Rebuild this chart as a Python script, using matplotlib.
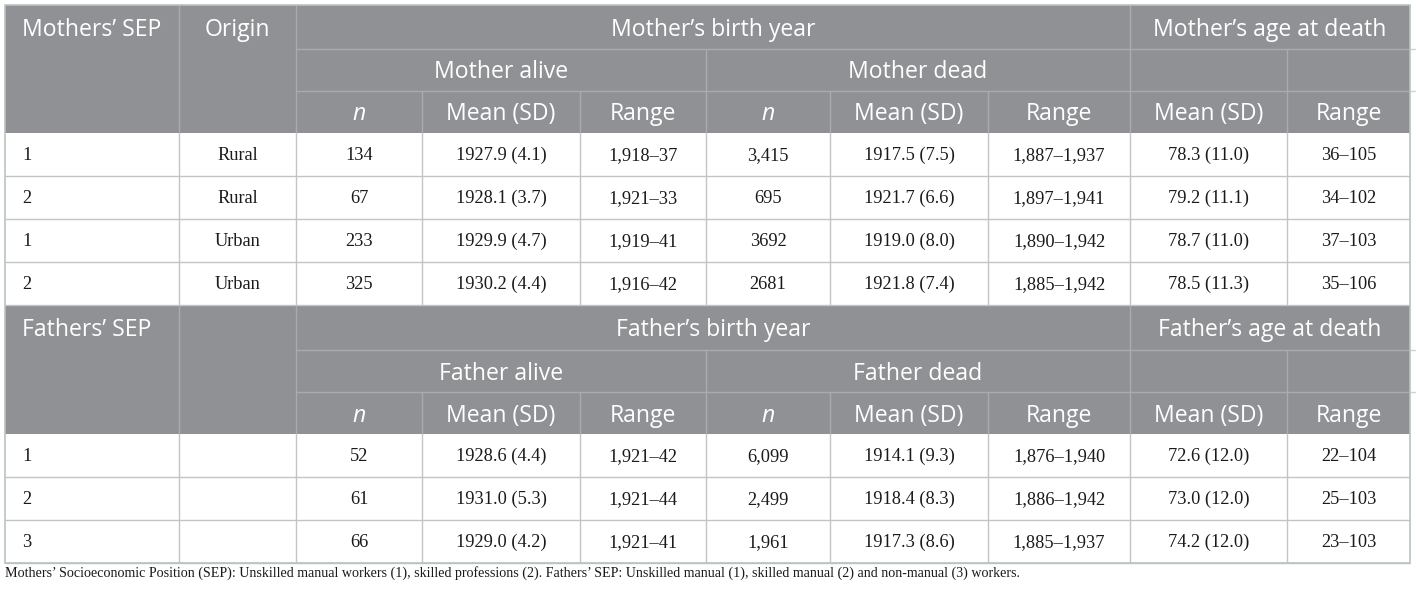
import matplotlib
matplotlib.use("Agg")
import matplotlib.pyplot as plt
from matplotlib.patches import Rectangle

# ---- data ----
mother_sep = ['1', '2', '1', '2']
origin = ['Rural', 'Rural', 'Urban', 'Urban']
m_alive_n = ['134', '67', '233', '325']
m_alive_mean = ['1927.9 (4.1)', '1928.1 (3.7)', '1929.9 (4.7)', '1930.2 (4.4)']
m_alive_range = ['1,918–37', '1,921–33', '1,919–41', '1,916–42']
m_dead_n = ['3,415', '695', '3692', '2681']
m_dead_mean = ['1917.5 (7.5)', '1921.7 (6.6)', '1919.0 (8.0)', '1921.8 (7.4)']
m_dead_range = ['1,887–1,937', '1,897–1,941', '1,890–1,942', '1,885–1,942']
m_age_mean = ['78.3 (11.0)', '79.2 (11.1)', '78.7 (11.0)', '78.5 (11.3)']
m_age_range = ['36–105', '34–102', '37–103', '35–106']

father_sep = ['1', '2', '3']
f_origin = ['', '', '']
f_alive_n = ['52', '61', '66']
f_alive_mean = ['1928.6 (4.4)', '1931.0 (5.3)', '1929.0 (4.2)']
f_alive_range = ['1,921–42', '1,921–44', '1,921–41']
f_dead_n = ['6,099', '2,499', '1,961']
f_dead_mean = ['1914.1 (9.3)', '1918.4 (8.3)', '1917.3 (8.6)']
f_dead_range = ['1,876–1,940', '1,886–1,942', '1,885–1,937']
f_age_mean = ['72.6 (12.0)', '73.0 (12.0)', '74.2 (12.0)']
f_age_range = ['22–104', '25–103', '23–103']

sub_headers = ['n', 'Mean (SD)', 'Range', 'n', 'Mean (SD)', 'Range', 'Mean (SD)', 'Range']
caption = ("Mothers’ Socioeconomic Position (SEP): Unskilled manual workers (1), skilled professions (2). "
           "Fathers’ SEP: Unskilled manual (1), skilled manual (2) and non-manual (3) workers.")

# ---- layout (pixels) ----
W, H = 1416, 595
colx = [5, 179, 296, 422, 580, 706, 830, 988, 1130, 1287, 1410]
HDR = '#8f9194'
HLINE = '#a9abae'
DLINE = '#c4c4c4'
OUTER = '#b9c3bf'
hfont = 'Open Sans'
dfont = 'Liberation Serif'
HFS = 16.6
DFS = 13.2

fig = plt.figure(figsize=(W / 100, H / 100), dpi=100)
ax = fig.add_axes([0, 0, 1, 1])
ax.set_xlim(0, W)
ax.set_ylim(H, 0)
ax.axis('off')


def hline(y, x0, x1, c, lw=1.0):
    ax.plot([x0, x1], [y, y], color=c, lw=lw, solid_capstyle='butt')


def vline(x, y0, y1, c, lw=1.0):
    ax.plot([x, x], [y0, y1], color=c, lw=lw, solid_capstyle='butt')


def mid(i, j=None):
    j = i + 1 if j is None else j
    return (colx[i] + colx[j]) / 2


def header(y0, first, second, title1, alive, dead, title2):
    r = [y0, y0 + 44, y0 + 86, y0 + 128]
    ax.add_patch(Rectangle((colx[0], r[0]), colx[-1] - colx[0], r[3] - r[0],
                           facecolor=HDR, edgecolor='none', zorder=0))
    # lines
    hline(r[1], colx[2], colx[-1], HLINE)
    hline(r[2], colx[2], colx[-1], HLINE)
    hline(r[1], colx[-1], W, '#d0d4d2')
    hline(r[2], colx[-1], W, '#d0d4d2')
    for x in (colx[1], colx[2], colx[8]):
        vline(x, r[0], r[3], HLINE)
    for x in (colx[5], colx[9]):
        vline(x, r[1], r[3], HLINE)
    for x in (colx[3], colx[4], colx[6], colx[7]):
        vline(x, r[2], r[3], HLINE)
    kw = dict(color='white', family=hfont, fontsize=HFS, va='center')
    c0 = (r[0] + r[1]) / 2 + 2.5
    c1 = (r[1] + r[2]) / 2 + 2.5
    c2 = (r[2] + r[3]) / 2 + 2.5
    ax.text(22, c0, first, ha='left', **kw)
    ax.text(mid(1), c0, second, ha='center', **kw)
    ax.text(mid(2, 8), c0, title1, ha='center', **kw)
    ax.text(mid(8, 10), c0, title2, ha='center', **kw)
    ax.text(mid(2, 5), c1, alive, ha='center', **kw)
    ax.text(mid(5, 8), c1, dead, ha='center', **kw)
    for k, s in enumerate(sub_headers):
        ax.text(mid(k + 2), c2, s, ha='center',
                style='italic' if s == 'n' else 'normal', **kw)
    return r[3]


def body(y0, cols):
    nrows = len(cols[0])
    rh = 43
    for i in range(nrows):
        yc = y0 + rh * i + rh / 2 + 1
        for k, col in enumerate(cols):
            if k == 0:
                ax.text(22, yc, col[i], ha='left', va='center',
                        family=dfont, fontsize=DFS, color='#1a1a1a')
            else:
                ax.text(mid(k), yc, col[i], ha='center', va='center',
                        family=dfont, fontsize=DFS, color='#1a1a1a')
        hline(y0 + rh * (i + 1), colx[0], colx[-1], DLINE)
    for x in colx[1:-1]:
        vline(x, y0, y0 + rh * nrows, DLINE)
    return y0 + rh * nrows


y = 5
y = header(y, 'Mothers’ SEP', 'Origin', 'Mother’s birth year',
           'Mother alive', 'Mother dead', 'Mother’s age at death')
y = body(y, [mother_sep, origin, m_alive_n, m_alive_mean, m_alive_range,
             m_dead_n, m_dead_mean, m_dead_range, m_age_mean, m_age_range])
y = header(y + 1, 'Fathers’ SEP', '', 'Father’s birth year',
           'Father alive', 'Father dead', 'Father’s age at death')
y_end = body(y, [father_sep, f_origin, f_alive_n, f_alive_mean, f_alive_range,
                 f_dead_n, f_dead_mean, f_dead_range, f_age_mean, f_age_range])

# outer border
ax.add_patch(Rectangle((colx[0], 5), colx[-1] - colx[0], y_end - 5,
                       facecolor='none', edgecolor=OUTER, lw=1.2, zorder=5))

ax.text(5, 573, caption, ha='left', va='center', family=dfont,
        fontsize=10.1, color='#1a1a1a')

fig.savefig('out.png', dpi=100)
